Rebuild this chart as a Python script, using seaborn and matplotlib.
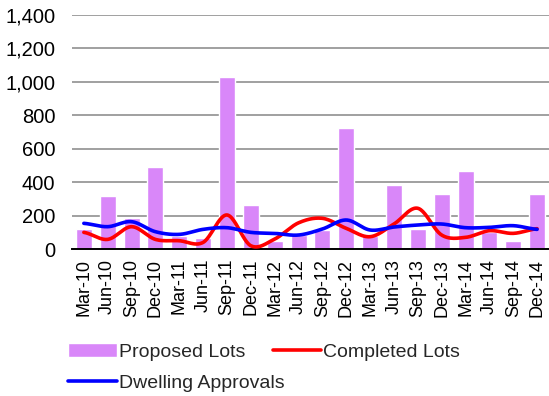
import numpy as np
import pandas as pd
import matplotlib
matplotlib.use('Agg')
import matplotlib.pyplot as plt
import seaborn as sns

# -- Data --------------------------------------------------------------------
quarters = ['Mar-10', 'Jun-10', 'Sep-10', 'Dec-10', 'Mar-11', 'Jun-11', 'Sep-11',
            'Dec-11', 'Mar-12', 'Jun-12', 'Sep-12', 'Dec-12', 'Mar-13', 'Jun-13',
            'Sep-13', 'Dec-13', 'Mar-14', 'Jun-14', 'Sep-14', 'Dec-14']
proposed_lots = [121, 315, 186, 489, 78, 68, 1028, 262, 48, 84,
                 112, 727, 80, 381, 122, 327, 467, 100, 47, 327]
completed_lots = [100, 58, 134, 58, 50, 40, 204, 20, 60, 157,
                  184, 124, 74, 150, 244, 84, 70, 110, 94, 122]
dwelling_approvals = [154, 134, 164, 104, 88, 118, 128, 100, 94, 84,
                      120, 174, 114, 132, 144, 150, 128, 130, 140, 118]
y_ticks = [0, 200, 400, 600, 800, 1000, 1200, 1400]

BAR_COLOR = '#D987F9'


def smooth_curve(values, steps=24):
    """Catmull-Rom path through the points (Excel-style smoothed line)."""
    v = np.asarray(values, dtype=float)
    pad = np.concatenate([[v[0]], v, [v[-1]]])
    xs, ys = [], []
    for i in range(len(v) - 1):
        p0, p1, p2, p3 = pad[i], pad[i + 1], pad[i + 2], pad[i + 3]
        t = np.linspace(0, 1, steps, endpoint=(i == len(v) - 2))
        seg = 0.5 * ((2 * p1) + (-p0 + p2) * t
                     + (2 * p0 - 5 * p1 + 4 * p2 - p3) * t ** 2
                     + (-p0 + 3 * p1 - 3 * p2 + p3) * t ** 3)
        xs.append(i + t)
        ys.append(seg)
    return np.concatenate(xs), np.concatenate(ys)


# -- Plot --------------------------------------------------------------------
sns.set_theme(style='white')
plt.rcParams['font.family'] = ['Liberation Sans', 'DejaVu Sans']

fig = plt.figure(figsize=(5.49, 3.96), dpi=100)
ax = fig.add_axes([0.131, 0.371, 0.869, 0.591])

bars_df = pd.DataFrame({'quarter': quarters, 'lots': proposed_lots})
sns.barplot(data=bars_df, x='quarter', y='lots', color=BAR_COLOR, saturation=1,
            width=0.67, ax=ax, label='Proposed Lots', zorder=2)

cx, cy = smooth_curve(completed_lots)
sns.lineplot(x=cx, y=cy, color='#FF0000', linewidth=2.6, sort=False,
             estimator=None, ax=ax, label='Completed Lots', zorder=3)
dx, dy = smooth_curve(dwelling_approvals)
sns.lineplot(x=dx, y=dy, color='#0000FF', linewidth=2.6, sort=False,
             estimator=None, ax=ax, label='Dwelling Approvals', zorder=4)

ax.set_xlim(-0.5, len(quarters) - 0.5)
ax.set_ylim(0, 1400)
ax.set_yticks(y_ticks)
ax.set_yticklabels([f'{t:,}' for t in y_ticks], fontsize=14.5)
ax.set_xticks(range(len(quarters)))
ax.set_xticklabels(quarters, rotation=90, fontsize=13)
ax.tick_params(axis='both', length=0, colors='black')
ax.tick_params(axis='x', pad=7)
ax.tick_params(axis='y', pad=12)
ax.set_xlabel('')
ax.set_ylabel('')
ax.yaxis.grid(True, color='#A0A0A0', linewidth=1.4, zorder=0)
ax.set_axisbelow(True)
for side in ['left', 'top', 'right']:
    ax.spines[side].set_visible(False)
ax.spines['bottom'].set_color('black')
ax.spines['bottom'].set_linewidth(1.4)

handles, labels = ax.get_legend_handles_labels()
order = [labels.index(n) for n in ['Proposed Lots', 'Dwelling Approvals', 'Completed Lots']]
ax.get_legend().remove()
fig.legend([handles[i] for i in order], [labels[i] for i in order],
           loc='upper left', bbox_to_anchor=(0.092, 0.178), ncol=2,
           frameon=False, fontsize=14, handlelength=2.5, handletextpad=0.1,
           columnspacing=-0.6, labelspacing=0.72)

plt.savefig('out.png', dpi=100)
plt.close()
